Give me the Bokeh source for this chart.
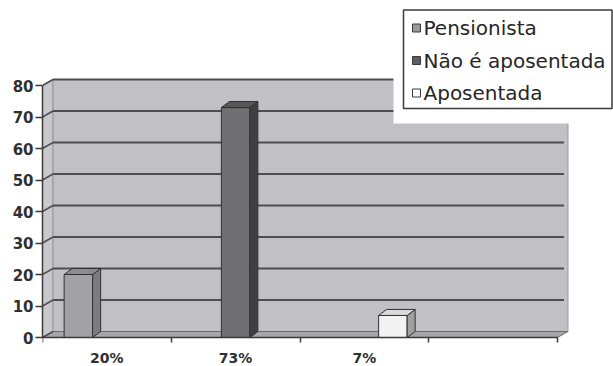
from bokeh.plotting import figure
from bokeh.models import Range1d, FixedTicker, LinearAxis
from bokeh.core.properties import value
from bokeh.embed import file_html
from bokeh.resources import INLINE

# ---- data ----
categories = ["20%", "73%", "7%", ""]
series_names = ["Pensionista", "Não é aposentada", "Aposentada"]
series_values = [20, 73, 7]
series_category = [0, 1, 2]
y_ticks = [0, 10, 20, 30, 40, 50, 60, 70, 80]

# ---- styles ----
front_colors = ["#a2a2a6", "#707073", "#f3f3f3"]
side_colors = ["#7c7c80", "#404043", "#a0a0a2"]
top_colors = ["#8c8c90", "#58585b", "#dadada"]
legend_colors = ["#9a9a9e", "#5e5e62", "#ffffff"]

W, H = 613, 366
LEFT = 42
ZERO_PX = 337        # pixel row of value 0
XU = 128.75          # px per category
YU = 3.15            # px per value unit
frame_w = W - LEFT
n_cat = len(categories)
ymax = y_ticks[-1]

DXW, DYW = 10.5 / XU, 6.0 / YU    # wall depth
DXB, DYB = 8.0 / XU, 6.0 / YU     # bar depth
BW = 28.5 / XU                    # bar width

def px_x(px):
    return (px - LEFT) / XU

def px_y(py):
    return (ZERO_PX - py) / YU

p = figure(width=W, height=H,
           x_range=Range1d(0, frame_w / XU),
           y_range=Range1d(px_y(H), px_y(0)),
           output_backend="svg", toolbar_location=None,
           min_border_left=LEFT, min_border_bottom=0,
           min_border_top=0, min_border_right=0,
           x_axis_type=None, y_axis_type=None)
p.outline_line_color = None
p.background_fill_color = "white"
p.border_fill_color = "white"

# ---- 3D walls ----
p.patch([0, DXW, DXW, 0], [0, DYW, ymax + DYW, ymax],
        fill_color="#c9c9cd", line_color="#8a8a8e", line_width=1)
p.patch([DXW, n_cat + DXW, n_cat + DXW, DXW],
        [DYW, DYW, ymax + DYW, ymax + DYW],
        fill_color="#c1c1c5", line_color="#9a9a9e", line_width=1)
p.patch([0, n_cat, n_cat + DXW, DXW], [0, 0, DYW, DYW],
        fill_color="#a6a6aa", line_color="#6a6a6e", line_width=1)

gl = [t for t in y_ticks if t > 0]
p.segment(x0=[DXW] * len(gl), y0=[t + DYW for t in gl],
          x1=[n_cat + DXW - 4 / XU] * len(gl), y1=[t + DYW for t in gl],
          line_color="#4e4e52", line_width=2)
p.segment(x0=[0] * len(y_ticks), y0=y_ticks,
          x1=[DXW] * len(y_ticks), y1=[t + DYW for t in y_ticks],
          line_color="#4e4e52", line_width=1.5)

# ---- bars ----
xc = [c + 0.5 + (s - 1) * BW for s, c in enumerate(series_category)]
p.vbar(x=xc, top=series_values, bottom=0, width=BW,
       fill_color=front_colors, line_color="#303033", line_width=1)
side_xs, side_ys, top_xs, top_ys = [], [], [], []
for x, v in zip(xc, series_values):
    r, l = x + BW / 2, x - BW / 2
    side_xs.append([r, r + DXB, r + DXB, r])
    side_ys.append([0, DYB, v + DYB, v])
    top_xs.append([l, r, r + DXB, l + DXB])
    top_ys.append([v, v, v + DYB, v + DYB])
p.patches(side_xs, side_ys, fill_color=side_colors, line_color="#303033", line_width=1)
p.patches(top_xs, top_ys, fill_color=top_colors, line_color="#303033", line_width=1)

# ---- axes ----
yaxis = LinearAxis(ticker=FixedTicker(ticks=y_ticks), bounds=(0, ymax))
yaxis.axis_line_color = "#3a3a3a"
yaxis.axis_line_width = 1.5
yaxis.major_tick_line_color = "#3a3a3a"
yaxis.major_tick_line_width = 1.5
yaxis.major_tick_out = 7
yaxis.major_tick_in = 0
yaxis.minor_tick_line_color = None
yaxis.major_label_standoff = 2
yaxis.major_label_text_font = "DejaVu Sans"
yaxis.major_label_text_font_size = "15px"
yaxis.major_label_text_font_style = "bold"
yaxis.major_label_text_color = "#303030"
p.add_layout(yaxis, "left")

centers = [i + 0.5 for i in range(n_cat)]
xaxis = LinearAxis(ticker=FixedTicker(ticks=centers, minor_ticks=list(range(n_cat + 1))),
                   bounds=(0, n_cat), fixed_location=0)
xaxis.major_label_overrides = {c: lab for c, lab in zip(centers, categories)}
xaxis.axis_line_color = "#3a3a3a"
xaxis.axis_line_width = 1.5
xaxis.major_tick_out = 0
xaxis.major_tick_in = 0
xaxis.minor_tick_out = 5
xaxis.minor_tick_in = 0
xaxis.minor_tick_line_color = "#3a3a3a"
xaxis.minor_tick_line_width = 1.5
xaxis.major_label_standoff = 7
xaxis.major_label_text_font = "DejaVu Sans"
xaxis.major_label_text_font_size = "14px"
xaxis.major_label_text_font_style = "bold"
xaxis.major_label_text_color = "#303030"
p.add_layout(xaxis, "below")

# ---- legend (drawn) ----
p.quad(left=[px_x(393)], right=[px_x(W + 5)], bottom=[px_y(123)], top=[px_y(-5)],
       fill_color="white", line_color=None)
p.quad(left=[px_x(403)], right=[px_x(611.5)], bottom=[px_y(108)], top=[px_y(9.5)],
       fill_color=None, line_color="#3a3a3a", line_width=1.5)
row_y = [px_y(27.5 + 32.5 * i) for i in range(len(series_names))]
p.rect(x=[px_x(416)] * len(series_names), y=row_y, width=8, height=8,
       width_units="screen", height_units="screen",
       fill_color=legend_colors, line_color="#3a3a3a", line_width=1)
p.text(x=[px_x(423)] * len(series_names), y=row_y, text=series_names,
       text_font=value("DejaVu Sans"), text_font_size="20px",
       text_baseline="middle", text_align="left", text_color="#262626")

open("out.html", "w").write(file_html(p, INLINE))
